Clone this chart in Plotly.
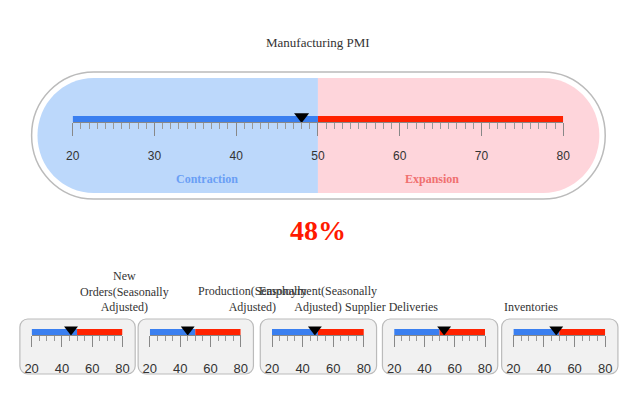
import plotly.graph_objects as go

# Data
title = "Manufacturing PMI"
main_value = 48
scale_min, scale_mid, scale_max = 20, 50, 80
sub_names = ["New<br>Orders(Seasonally<br>Adjusted)", "Production(Seasonally<br>Adjusted)",
             "Employment(Seasonally<br>Adjusted)", "Supplier Deliveries", "Inventories"]
sub_values = [46, 45, 48, 53, 48]

# page body has an 8px margin, so the figure is 614x384 and sits at (8, 8)
OFF = 8
W, H = 630 - 2 * OFF, 400 - 2 * OFF
BLUE, RED = "#3a7ff0", "#ff2200"


def fx(px):
    return (px - OFF) / W


def fy(py):
    return 1 - (py - OFF) / H


def pt(px, py):
    return f"{fx(px):.5f},{fy(py):.5f}"


def capsule(x0, x1, y0, y1, left=True, right=True):
    r = (y1 - y0) / 2
    k = 0.5523 * r
    cy = (y0 + y1) / 2
    xl = x0 + r if left else x0
    xr = x1 - r if right else x1
    p = f"M{pt(xl, y0)} L{pt(xr, y0)} "
    if right:
        p += f"C{pt(xr + k, y0)} {pt(x1, cy - k)} {pt(x1, cy)} C{pt(x1, cy + k)} {pt(xr + k, y1)} {pt(xr, y1)} "
    else:
        p += f"L{pt(x1, y1)} "
    p += f"L{pt(xl, y1)} "
    if left:
        p += f"C{pt(xl - k, y1)} {pt(x0, cy + k)} {pt(x0, cy)} C{pt(x0, cy - k)} {pt(xl - k, y0)} {pt(xl, y0)} "
    else:
        p += f"L{pt(x0, y0)} "
    return p + "Z"


def rrect(x0, x1, y0, y1, r=8):
    k = 0.5523 * r
    return (f"M{pt(x0 + r, y0)} L{pt(x1 - r, y0)} C{pt(x1 - r + k, y0)} {pt(x1, y0 + r - k)} {pt(x1, y0 + r)} "
            f"L{pt(x1, y1 - r)} C{pt(x1, y1 - r + k)} {pt(x1 - r + k, y1)} {pt(x1 - r, y1)} "
            f"L{pt(x0 + r, y1)} C{pt(x0 + r - k, y1)} {pt(x0, y1 - r + k)} {pt(x0, y1 - r)} "
            f"L{pt(x0, y0 + r)} C{pt(x0, y0 + r - k)} {pt(x0 + r - k, y0)} {pt(x0 + r, y0)} Z")


fig = go.Figure()
layout = dict(width=W, height=H, margin=dict(l=0, r=0, t=0, b=0),
              paper_bgcolor="white", plot_bgcolor="rgba(0,0,0,0)", showlegend=False)

shapes = [
    dict(type="path", path=capsule(25, 612, 72, 199), xref="paper", yref="paper",
         fillcolor="white", line=dict(color="#bbbbbb", width=1.5), layer="below"),
    dict(type="path", path=capsule(31, 318, 78, 193, right=False), xref="paper", yref="paper",
         fillcolor="#bcd8fb", line=dict(width=0), layer="below"),
    dict(type="path", path=capsule(318, 606, 78, 193, left=False), xref="paper", yref="paper",
         fillcolor="#fed5db", line=dict(width=0), layer="below"),
]


def gauge(n, px0, px1, ybot, ytop, value, major, minor, big):
    xa = "xaxis" if n == 1 else f"xaxis{n}"
    ya = "yaxis" if n == 1 else f"yaxis{n}"
    xr = "x" if n == 1 else f"x{n}"
    yr = "y" if n == 1 else f"y{n}"
    layout[xa] = dict(domain=[fx(px0), fx(px1)], range=[scale_min, scale_max], anchor=yr,
                      showgrid=False, zeroline=False, showline=True, linecolor="#888",
                      ticks="outside", ticklen=13 if big else 11, tickcolor="#888",
                      dtick=major, tick0=scale_min, ticklabelstandoff=10,
                      tickfont=dict(family="Liberation Sans, Arial", size=12 if big else 13, color="#333"),
                      minor=dict(dtick=minor, ticks="outside", ticklen=6 if big else 5, tickcolor="#999"),
                      fixedrange=True)
    layout[ya] = dict(domain=[fy(ybot), fy(ytop)], range=[0, 1], anchor=xr, visible=False,
                      fixedrange=True)
    fig.add_trace(go.Scatter(x=[scale_min, scale_mid], y=[0.5, 0.5], xaxis=xr, yaxis=yr,
                             mode="lines", line=dict(color=BLUE, width=6), cliponaxis=False,
                             hoverinfo="skip"))
    fig.add_trace(go.Scatter(x=[scale_mid, scale_max], y=[0.5, 0.5], xaxis=xr, yaxis=yr,
                             mode="lines", line=dict(color=RED, width=6), cliponaxis=False,
                             hoverinfo="skip"))
    fig.add_trace(go.Scatter(x=[value], y=[0.9], xaxis=xr, yaxis=yr, mode="markers",
                             marker=dict(symbol="triangle-down", size=13 if big else 12, color="black"),
                             cliponaxis=False))


gauge(1, 67, 569, 122, 116, main_value, 10, 1, True)

serif = "Liberation Serif, Times New Roman"
boxes = [(13, 131), (134, 252), (259, 378), (384, 502), (506, 625)]
annotations = [
    dict(text=title, x=fx(318), y=fy(33), xref="paper", yref="paper", showarrow=False,
         font=dict(family=serif, size=13, color="#333")),
    dict(text="<b>Contraction</b>", x=fx(171), y=fy(179), xref="paper", yref="paper", showarrow=False,
         font=dict(family=serif, size=12, color="#6a9ff5")),
    dict(text="<b>Expansion</b>", x=fx(464), y=fy(179), xref="paper", yref="paper", showarrow=False,
         font=dict(family=serif, size=12, color="#f07070")),
    dict(text=f"<b>{main_value}%</b>", x=fx(318), y=fy(230), xref="paper", yref="paper", showarrow=False,
         font=dict(family=serif, size=28, color="#ff1a00")),
]

for i, (name, val) in enumerate(zip(sub_names, sub_values)):
    bx0, bx1 = boxes[i]
    shapes.append(dict(type="path", path=rrect(bx0, bx1, 319, 374), xref="paper", yref="paper",
                       fillcolor="#f1f1f1", line=dict(color="#bbbbbb", width=1.2), layer="below"))
    gauge(i + 2, bx0 + 12, bx1 - 13, 335, 329, val, 20, 5, False)
    annotations.append(dict(text=name, x=fx((bx0 + bx1) / 2), y=fy(316), xref="paper", yref="paper",
                            yanchor="bottom", showarrow=False, align="center",
                            font=dict(family=serif, size=12, color="#333")))

layout["shapes"] = shapes
layout["annotations"] = annotations
fig.update_layout(**layout)

fig.write_html("out.html")
